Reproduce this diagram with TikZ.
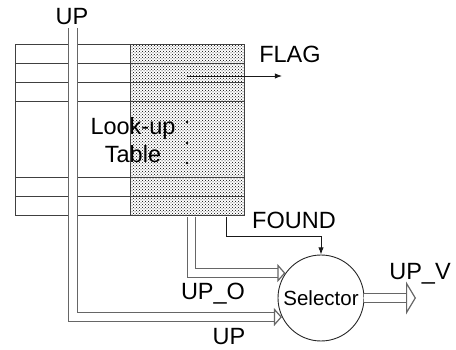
\documentclass[tikz,border=0pt]{standalone}
\usepackage{fontspec}
\setmainfont{Liberation Sans}
\usetikzlibrary{arrows.meta,patterns}

\begin{document}
\begin{tikzpicture}[x=1pt, y=-1pt, >=Latex,
    every node/.style={font=\fontsize{23.5}{28}\selectfont, inner sep=0pt},
    bus/.style={draw=gray!80!black, line width=1.2pt, double=white, double distance=7.5pt},
    busarrow/.style={bus, -{Triangle[open, length=8pt, width=18pt]}},
    sig/.style={draw=black!90, line width=0.9pt},
    tab/.style={draw=black!75, line width=1pt}]
    \useasboundingbox (0,0) rectangle (456,350);

    % look-up table
    \fill[white] (15,45) rectangle (244,216);
    \fill[pattern=crosshatch dots, pattern color=black] (130,45) rectangle (244,216);
    \draw[tab] (15,45) rectangle (244,216);
    \draw[tab] (130,45) -- (130,216);
    \foreach \r in {64,83,102,178,197}
      \draw[tab] (15,\r) -- (244,\r);
    \node[align=center] (lut) at (133,140) {Look-up\\Table};
    \foreach \r in {122,143,163}
      \fill (187,\r) circle (1.4pt);

    \coordinate (upin) at (73,28);
    \coordinate (upoout) at (191.5,217);
    \coordinate (fndout) at (226,217);
    \coordinate (flagin) at (187,76);
    \coordinate (flagout) at (282,76);
    \coordinate (upvout) at (416,298);

    \node[draw=black!85, line width=0.9pt, circle, minimum size=86pt, font=\fontsize{20.5}{24}\selectfont]
      (sel) at (321,298) {Selector};

    % buses
    \draw[busarrow] (upin) |- (sel.206.2);
    \draw[busarrow] (upoout) |- (sel.145.3);
    \draw[bus, -{Triangle[open, length=10pt, width=33pt]}] (sel.east) -- (upvout);

    % signals
    \draw[sig,->] (fndout) -- (226,236) -| (sel.north);
    \draw[sig,->] (flagin) -- (flagout);

    % labels
    \node (uptop) at (72,17) {UP};
    \node (flag) at (290,54) {FLAG};
    \node (found) at (294,220) {FOUND};
    \node (upo) at (213,294) {UP\_O};
    \node (upbot) at (229,337) {UP};
    \node (upv) at (420,274) {UP\_V};
\end{tikzpicture}
\end{document}
